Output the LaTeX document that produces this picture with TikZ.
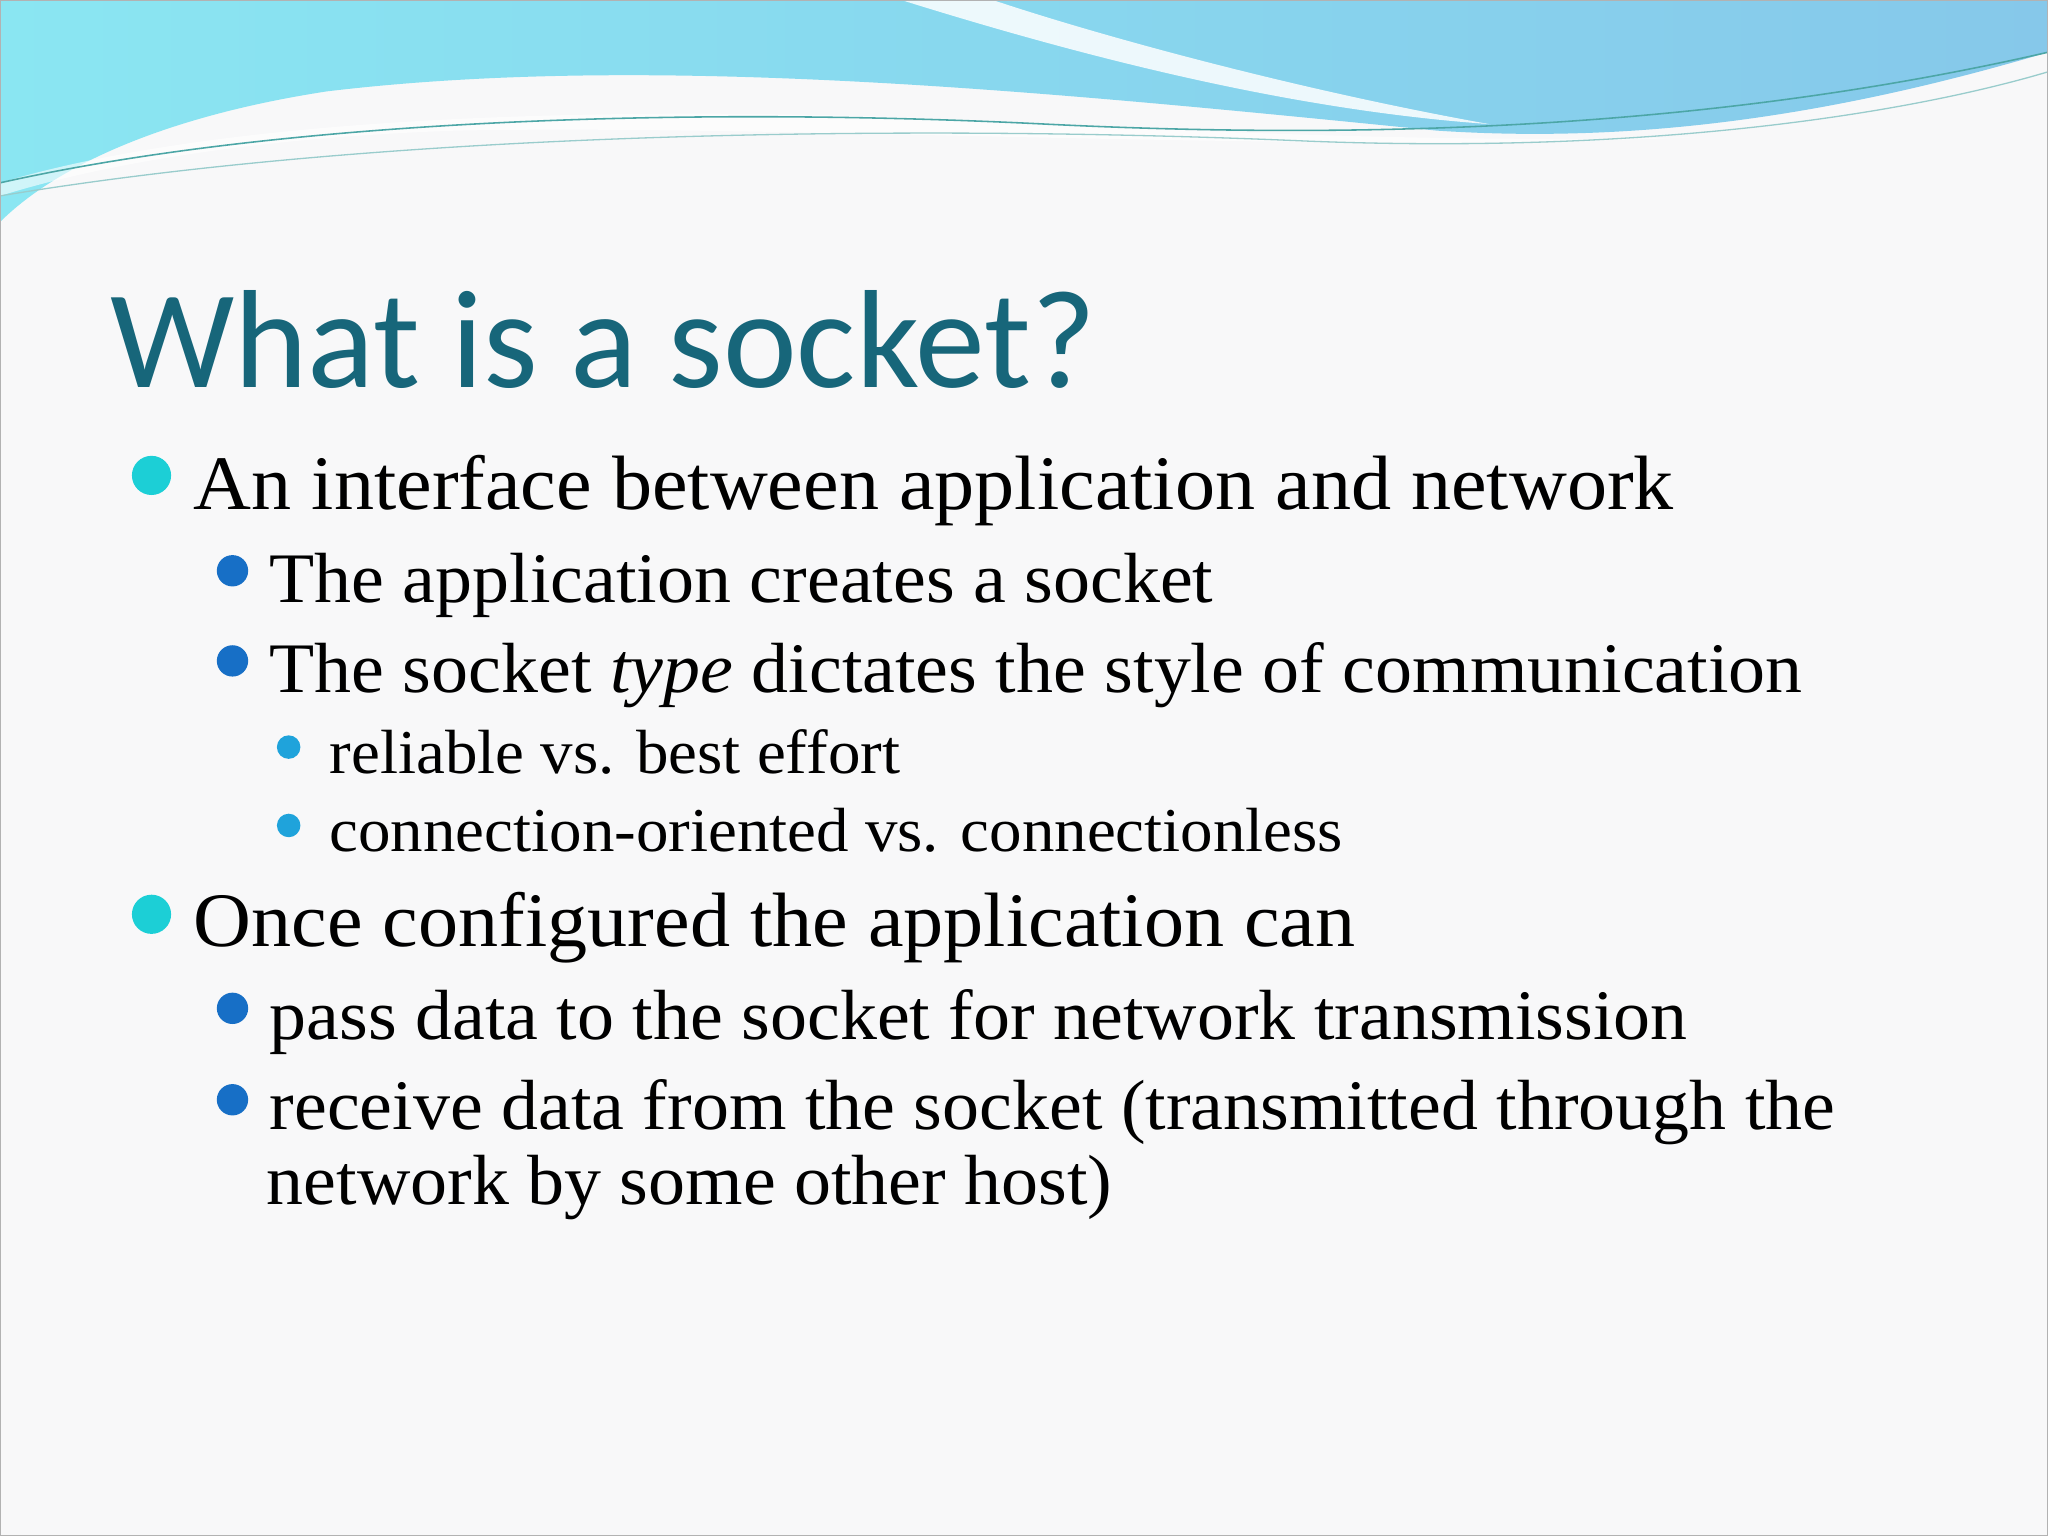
\documentclass[tikz,border=0pt]{standalone}
\usepackage{fontspec}
\setmainfont[FakeStretch=1.04]{Liberation Serif}
\newfontfamily\titlefont{Carlito}
\definecolor{titleC}{HTML}{17667A}
\definecolor{bA}{HTML}{1CCFD6}
\definecolor{bB}{HTML}{176FC6}
\definecolor{bC}{HTML}{1FA3DB}
\definecolor{cyanL}{HTML}{8AE6F2}
\definecolor{blueL}{HTML}{86C8EA}
\definecolor{bg}{HTML}{F8F8F9}
\tikzset{
 l1/.style={anchor=base west,inner sep=0,font=\fontsize{29.5}{34}\selectfont},
 l2/.style={anchor=base west,inner sep=0,font=\fontsize{27.2}{30}\selectfont},
 l3/.style={anchor=base west,inner sep=0,font=\fontsize{23.9}{26}\selectfont},
}
\begin{document}
\begin{tikzpicture}[x=0.5pt,y=-0.5pt]
\useasboundingbox (0,0) rectangle (1568,1176);
\fill[bg] (0,0) rectangle (1568,1176);
% header waves
\shade[left color=cyanL,right color=blueL]
 (0,0) -- (1568,0) -- (1568,40) .. controls (1400,90) and (1250,110) .. (1100,100)
 .. controls (800,70) and (500,40) .. (250,70) .. controls (120,90) and (40,130) .. (0,170) -- cycle;
\fill[white,opacity=0.85] (690,0) .. controls (850,50) and (1000,85) .. (1140,95)
 .. controls (1000,70) and (850,30) .. (760,0) -- cycle;
\fill[white,opacity=0.6] (0,140) .. controls (150,95) and (400,80) .. (700,90)
 .. controls (900,100) and (1100,110) .. (1300,105) .. controls (1000,118) and (600,95) .. (350,100)
 .. controls (200,105) and (80,125) .. (0,150) -- cycle;
\draw[teal!70,line width=0.6pt] (0,140) .. controls (200,95) and (500,80) .. (800,95) .. controls (1100,110) and (1350,90) .. (1568,40);
\draw[teal!40,line width=0.5pt] (0,150) .. controls (300,100) and (700,95) .. (1000,108) .. controls (1250,118) and (1450,90) .. (1568,55);
\draw[gray!60] (0.5,0.5) rectangle (1567.5,1175.5);
% title
\node[anchor=base west,inner sep=0,text=titleC,font=\titlefont\fontsize{53.5}{56}\selectfont] (title) at (84,297) {What is a socket?};
% bullets and text
\fill[bA] (116,364) circle (15);
\node[l1] (t1) at (148,390) {An interface between application and network};
\fill[bB] (178,437) circle (12);
\node[l2] (t2) at (206,461) {The application creates a socket};
\fill[bB] (178,506) circle (12);
\node[l2] (t3) at (206,530) {The socket \textit{type} dictates the style of communication};
\fill[bC] (221,572) circle (9);
\node[l3] (t4) at (252,592) {reliable vs. best effort};
\fill[bC] (221,632) circle (9);
\node[l3] (t5) at (252,652) {connection-oriented vs. connectionless};
\fill[bA] (116,700) circle (15);
\node[l1] (t6) at (148,725) {Once configured the application can};
\fill[bB] (178,772) circle (12);
\node[l2] (t7) at (206,796) {pass data to the socket for network transmission};
\fill[bB] (178,842) circle (12);
\node[l2] (t8) at (206,865) {receive data from the socket (transmitted through the};
\node[l2] (t9) at (204,922) {network by some other host)};
\end{tikzpicture}
\end{document}
